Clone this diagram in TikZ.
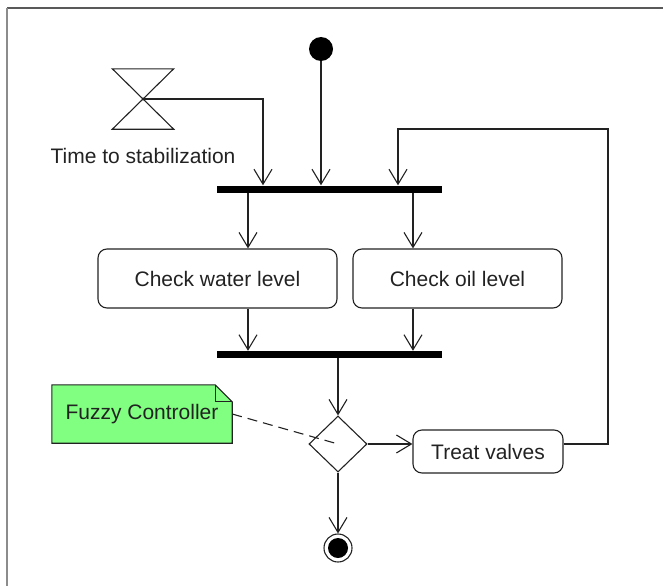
\documentclass[tikz,border=0pt]{standalone}
\usepackage{fontspec}
\setmainfont{Liberation Sans}
\usetikzlibrary{arrows.meta,shapes.geometric,backgrounds}
\definecolor{ln}{HTML}{222222}
\definecolor{notegreen}{HTML}{80FF80}
\begin{document}
\begin{tikzpicture}[x=1pt,y=-1pt,
  every node/.style={font=\fontsize{21}{25}\selectfont, text=ln},
  conn/.style={draw=ln, line width=1.1pt},
  arr/.style={conn, -{Straight Barb[length=15pt,width=18pt,line width=1.1pt]}},
  action/.style={draw=ln, line width=1.1pt, rounded corners=9pt, inner sep=0pt},
  bar/.style={fill=black, draw=none, minimum width=225pt, minimum height=7pt, inner sep=0pt},
  decision/.style={diamond, draw=ln, line width=1.1pt, minimum width=58pt, minimum height=56pt, inner sep=0pt},
  initial/.style={circle, fill=black, draw=none, minimum size=24pt, inner sep=0pt},
  final/.style={circle, draw=ln, line width=1.1pt, minimum size=28pt, inner sep=0pt},
  timebox/.style={draw=none, minimum width=61pt, minimum height=60pt, inner sep=0pt},
  notebox/.style={draw=none, minimum width=180pt, minimum height=58pt, inner sep=0pt},
  frameline/.style={draw=gray, line width=2pt}
]
\useasboundingbox (0,0) rectangle (663,586);
% frame
\draw[frameline, draw=black!65] (7,8) -- (663,8);
\draw[frameline, draw=black!45] (7,8) -- (7,586);

% columns
\coordinate (xh) at (263,0);
\coordinate (xa) at (248,0);
\coordinate (xb) at (413,0);
\coordinate (xl) at (398,0);
\coordinate (loopc) at (608,129);

% nodes
\node[initial] (start) at (321,49) {};
\node[timebox] (hg) at (143,99) {};
\draw[conn, line join=miter] (hg.north west) -- (hg.north east) -- (hg.south west) -- (hg.south east) -- cycle;
\node (hglabel) at (143,156) {Time to stabilization};

\node[bar] (bar1) at (329.5,189) {};
\node[action, minimum width=239pt, minimum height=59pt] (water) at (217.5,278.5) {Check water level};
\node[action, minimum width=209pt, minimum height=59pt] (oil) at (457.5,278.5) {Check oil level};
\node[bar] (bar2) at (329.5,354.5) {};
\node[decision] (dec) at (338,444) {};
\node[action, minimum width=150pt, minimum height=43pt] (treat) at (488,451.5) {Treat valves};
\node[final] (end) at (338,548) {};
\fill[black] (end.center) circle (10);

\node[notebox] (note) at (142,414) {};
\begin{scope}[on background layer]
\draw[conn, fill=notegreen] (note.north west) -- ([xshift=-17pt]note.north east) -- ([yshift=-17pt]note.north east) -- (note.south east) -- (note.south west) -- cycle;
\draw[conn] ([xshift=-17pt]note.north east) |- ([yshift=-17pt]note.north east);
\end{scope}
\node (notetext) at (142,414) {Fuzzy Controller};

% connectors
\draw[arr] (hg.center) -| (xh |- bar1.north);
\draw[arr] (start) -- (start |- bar1.north);
\draw[arr] (dec.east -| treat.east) -| (loopc) -| (xl |- bar1.north);
\draw[arr] (xa |- bar1.south) -- (xa |- water.north);
\draw[arr] (xb |- bar1.south) -- (xb |- oil.north);
\draw[arr] (xa |- water.south) -- (xa |- bar2.north);
\draw[arr] (xb |- oil.south) -- (xb |- bar2.north);
\draw[arr] (dec |- bar2.south) -- (dec.north);
\draw[arr] (dec.east) -- (dec.east -| treat.west);
\draw[arr] (dec.south) -- (end.north);
\draw[conn, dashed, dash pattern=on 10pt off 6pt] (note.east) -- (dec.center);
\end{tikzpicture}
\end{document}
